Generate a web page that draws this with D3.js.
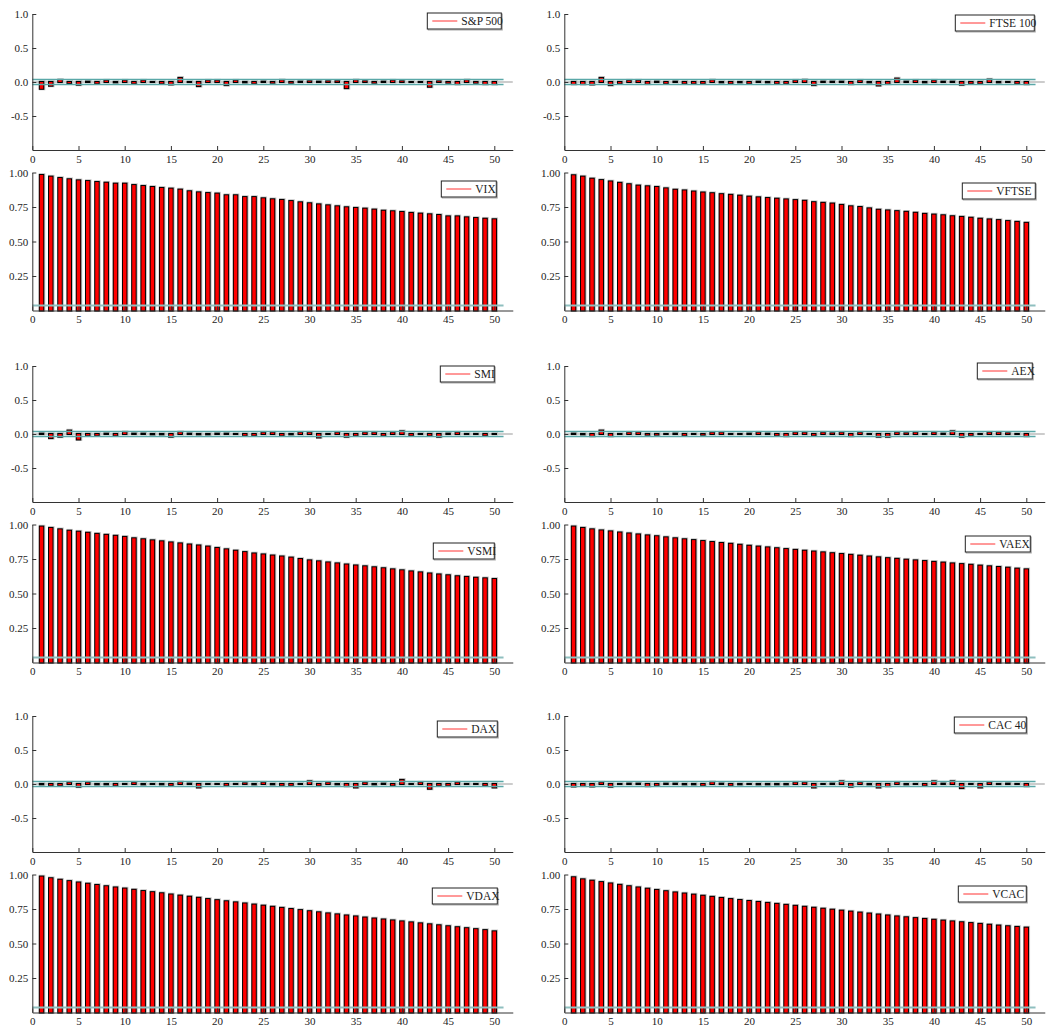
<!DOCTYPE html>
<html>
<head>
<meta charset="utf-8">
<script src="https://cdn.jsdelivr.net/npm/d3@7"></script>
<style>
  body { margin: 0; background: #fff; }
  svg { display: block; font-family: "Liberation Serif", "DejaVu Serif", serif; }
</style>
</head>
<body>
<div id="chart"></div>
<script>
// lags 1..50
var lags = d3.range(1, 51)
var band = 0.037

// autocorrelation of returns
var spx = [-0.10,-0.055,0.03,-0.015,-0.04,0.005,-0.02,0.02,-0.005,0.02,-0.02,0.02,0.0,-0.02,-0.035,0.06,0.0,-0.06,0.02,0.02,-0.045,0.02,-0.005,-0.02,
  0.005,-0.01,0.025,-0.01,0.005,0.01,0.005,0.01,0.01,-0.09,0.025,0.01,-0.01,0.005,0.02,0.01,0.0,0.0,-0.07,0.01,-0.01,-0.03,0.025,-0.01,-0.03,-0.03]
var ftse = [-0.03,-0.03,-0.035,0.06,-0.045,-0.02,0.02,0.02,-0.025,0.005,-0.02,0.005,-0.02,-0.02,-0.02,0.025,-0.005,-0.02,-0.005,-0.02,0.005,-0.005,-0.02,
  -0.02,0.02,0.03,-0.045,0.005,0.005,0.005,-0.03,0.02,-0.005,-0.05,-0.025,0.05,0.005,0.02,-0.005,0.02,0.005,0.005,-0.04,-0.02,-0.02,0.035,-0.005,0.0,-0.02,-0.03]
var smi = [0.005,-0.06,-0.04,0.05,-0.08,-0.02,-0.02,0.005,-0.02,0.025,0.005,0.005,-0.005,-0.005,-0.04,0.025,0.005,-0.005,-0.005,0.005,0.005,0.0,-0.02,-0.02,
  0.02,0.02,-0.02,-0.005,0.02,0.02,-0.05,0.0,0.02,-0.04,-0.02,0.02,0.02,-0.02,0.02,0.04,-0.02,0.0,-0.02,-0.04,0.005,0.02,0.0,0.0,-0.02,0.0]
var aex = [0.005,-0.005,-0.03,0.05,-0.03,0.0,0.02,0.02,-0.01,-0.01,0.0,0.005,-0.02,0.0,-0.01,0.02,0.02,0.0,0.0,0.005,0.02,0.005,-0.02,-0.03,
  0.02,0.02,-0.02,0.02,0.01,0.02,-0.03,0.02,0.0,-0.04,-0.04,0.02,0.01,0.02,0.0,0.02,0.005,0.04,-0.04,-0.02,0.0,0.02,0.02,0.01,0.0,-0.03]
var dax = [-0.005,-0.02,-0.02,0.02,-0.04,0.02,-0.005,-0.005,-0.02,0.0,0.02,-0.005,0.0,-0.005,-0.02,0.025,0.005,-0.05,0.0,0.0,-0.02,0.0,0.01,-0.005,
  0.02,-0.005,-0.02,-0.02,0.0,0.04,-0.02,0.02,-0.005,-0.03,-0.05,0.02,-0.005,0.005,-0.02,0.06,0.0,0.02,-0.07,-0.02,-0.02,0.02,0.0,0.0,-0.02,-0.05]
var cac = [-0.035,-0.025,-0.035,0.02,-0.04,0.0,0.005,0.005,-0.03,-0.02,0.005,0.005,-0.005,-0.005,-0.02,0.025,0.005,-0.02,-0.005,0.0,-0.005,-0.005,-0.005,
  -0.005,0.02,0.02,-0.05,0.0,0.005,0.04,-0.04,0.02,-0.005,-0.05,-0.03,0.02,-0.005,0.0,-0.02,0.04,0.005,0.04,-0.06,0.0,-0.05,0.02,0.0,0.005,0.0,-0.03]

// autocorrelation of volatility indices
var vix = [0.982,0.970,0.960,0.951,0.943,0.938,0.931,0.926,0.919,0.919,0.909,0.902,0.895,0.888,0.883,0.876,0.864,0.856,0.851,0.847,0.835,0.835,0.822,0.822,
  0.813,0.806,0.801,0.793,0.784,0.777,0.769,0.762,0.755,0.748,0.743,0.738,0.731,0.723,0.719,0.714,0.707,0.702,0.697,0.692,0.682,0.682,0.675,0.670,0.665,0.661]
var vftse = [0.980,0.970,0.955,0.945,0.935,0.925,0.915,0.905,0.900,0.895,0.885,0.875,0.870,0.862,0.855,0.850,0.843,0.838,0.832,0.825,0.820,0.815,0.810,0.805,
  0.800,0.795,0.785,0.780,0.775,0.765,0.755,0.750,0.740,0.730,0.725,0.720,0.715,0.708,0.700,0.695,0.690,0.683,0.678,0.672,0.665,0.660,0.655,0.648,0.642,0.635]
var vsmi = [0.985,0.975,0.965,0.955,0.948,0.940,0.932,0.925,0.918,0.910,0.900,0.893,0.885,0.878,0.870,0.863,0.855,0.848,0.840,0.830,0.820,0.810,0.800,0.790,
  0.783,0.775,0.768,0.760,0.750,0.740,0.733,0.725,0.718,0.710,0.703,0.697,0.690,0.683,0.675,0.668,0.660,0.653,0.645,0.638,0.632,0.625,0.620,0.614,0.610,0.605]
var vaex = [0.985,0.975,0.965,0.957,0.950,0.942,0.935,0.928,0.921,0.915,0.907,0.900,0.893,0.887,0.880,0.873,0.866,0.860,0.853,0.846,0.840,0.834,0.828,0.822,
  0.816,0.810,0.804,0.798,0.792,0.786,0.780,0.774,0.768,0.762,0.756,0.751,0.745,0.740,0.735,0.729,0.724,0.718,0.713,0.708,0.702,0.697,0.692,0.687,0.680,0.675]
var vdax = [0.985,0.973,0.962,0.952,0.942,0.933,0.924,0.915,0.906,0.898,0.889,0.880,0.872,0.864,0.855,0.847,0.839,0.831,0.822,0.814,0.806,0.798,0.790,0.782,
  0.774,0.766,0.758,0.750,0.742,0.734,0.726,0.718,0.711,0.703,0.696,0.688,0.681,0.674,0.667,0.660,0.653,0.646,0.639,0.632,0.625,0.618,0.611,0.604,0.597,0.588]
var vcac = [0.980,0.965,0.955,0.945,0.935,0.925,0.915,0.906,0.897,0.888,0.879,0.870,0.862,0.854,0.846,0.838,0.830,0.822,0.815,0.808,0.801,0.794,0.787,0.780,
  0.773,0.766,0.759,0.752,0.745,0.738,0.731,0.724,0.717,0.710,0.703,0.696,0.690,0.684,0.678,0.672,0.666,0.660,0.654,0.648,0.642,0.636,0.630,0.625,0.620,0.615]

var names = ['S&P 500','FTSE 100','VIX','VFTSE','SMI','AEX','VSMI','VAEX','DAX','CAC 40','VDAX','VCAC']
var series = [spx, ftse, vix, vftse, smi, aex, vsmi, vaex, dax, cac, vdax, vcac]

var width = 1046, height = 1032
var svg = d3.select('#chart').append('svg')
  .attr('width', width)
  .attr('height', height)

var lag_px = 9.24
var col_x = [32.3, 564.3]
var group_y = [0, 352, 702]
// legend box (left, top, right) relative to panel origin, per panel
var legend_pos = [[395,-1,469],[391,1,470],[409,8.5,464],[398,10.5,471],
  [408,0,462],[413,-3,468],[401,18.5,462],[401,11.5,466],
  [405,5,465],[390,1,462],[400,13.5,465],[394,11.5,462]]

names.forEach(function(name, i){
  var col = i % 2
  var row = Math.floor(i / 2)
  var is_vol = row % 2 === 1
  var g_idx = Math.floor(row / 2)
  var x0 = col_x[col]
  var top = (is_vol ? 172.5 : 14) + group_y[g_idx]
  draw_panel(name, series[i], x0, top, is_vol, legend_pos[i])
})

function draw_panel(name, values, x0, top, is_vol, lp){
  var g = svg.append('g')
  var x = d3.scaleLinear().domain([0, 52]).range([x0, x0 + 52 * lag_px])
  var y = is_vol
    ? d3.scaleLinear().domain([0, 1]).range([top + 138, top])
    : d3.scaleLinear().domain([-1, 1]).range([top + 136, top])
  var y_base = is_vol ? 0 : -1

  // zero line
  if(!is_vol){
    g.append('line')
      .attr('x1', x(0)).attr('x2', x(52))
      .attr('y1', y(0)).attr('y2', y(0))
      .attr('stroke', '#999').attr('stroke-width', 1)
  }

  // bars: gray halo, black edge outside, red body
  var bw = 0.38 * lag_px
  var bars = g.append('g')
  values.forEach(function(v, k){
    var lag = lags[k]
    var y1 = Math.min(y(v), y(0)), y2 = Math.max(y(v), y(0))
    var h = y2 - y1
    var bx = x(lag) - bw / 2
    bars.append('rect')
      .attr('x', bx - 1).attr('y', y1 - 1.8)
      .attr('width', bw + 3).attr('height', h + 3.3)
      .attr('fill', '#c4c4c4')
    bars.append('rect')
      .attr('x', bx - 1).attr('y', y1 - 1)
      .attr('width', bw + 2).attr('height', h + 2)
      .attr('fill', '#000')
    if(h > 0.6){
      bars.append('rect')
        .attr('x', bx).attr('y', y1)
        .attr('width', bw).attr('height', h)
        .attr('fill', '#ff0000')
    }
  })

  // confidence band
  var band_vals = is_vol ? [band] : [band, -band]
  band_vals.forEach(function(b){
    g.append('line')
      .attr('x1', x(0)).attr('x2', x(51))
      .attr('y1', y(b)).attr('y2', y(b))
      .attr('stroke', is_vol ? '#8fbfbf' : '#5aa8a8')
      .attr('stroke-width', is_vol ? 2 : 1.5)
  })

  // x axis
  var xa = g.append('g').attr('transform', 'translate(0,' + y(y_base) + ')')
  xa.call(d3.axisBottom(x).tickValues(d3.range(0, 53)).tickSize(-2).tickFormat(''))
  xa.call(d3.axisBottom(x).tickValues(d3.range(0, 51, 5)).tickSizeInner(-4).tickSizeOuter(0).tickPadding(5))
  style_axis(xa)

  // y axis
  var minor = is_vol ? d3.range(1, 21).map(function(d){ return d * 0.05 }) : d3.range(-10, 11).map(function(d){ return d / 10 })
  var major = is_vol ? [0.25, 0.5, 0.75, 1.0] : [-0.5, 0, 0.5, 1.0]
  var ya = g.append('g').attr('transform', 'translate(' + x(0) + ',0)')
  ya.call(d3.axisLeft(y).tickValues(minor).tickSize(-2).tickFormat(''))
  ya.call(d3.axisLeft(y).tickValues(major).tickSizeInner(-4).tickSizeOuter(0).tickPadding(4)
    .tickFormat(function(d){ return d.toFixed(is_vol ? 2 : 1) }))
  style_axis(ya)

  // legend
  var lx = x0 + lp[0], ly = top + lp[1], lw = lp[2] - lp[0], lh = 16
  var lg = g.append('g')
  lg.append('rect')
    .attr('x', lx + 1).attr('y', ly + 1).attr('width', lw).attr('height', lh)
    .attr('fill', 'none').attr('stroke', '#aaa').attr('stroke-width', 1)
  lg.append('rect')
    .attr('x', lx).attr('y', ly).attr('width', lw).attr('height', lh)
    .attr('fill', '#fff').attr('stroke', '#222').attr('stroke-width', 1)
  lg.append('line')
    .attr('x1', lx + 5).attr('x2', lx + 30)
    .attr('y1', ly + lh / 2).attr('y2', ly + lh / 2)
    .attr('stroke', '#f33').attr('stroke-width', 1)
  lg.append('text')
    .attr('x', lx + 34).attr('y', ly + lh / 2 + 4)
    .attr('font-size', 11.5).attr('fill', '#222')
    .text(name)
}

function style_axis(a){
  a.select('.domain').attr('stroke', '#333')
  a.selectAll('.tick line').attr('stroke', '#333')
  a.selectAll('.tick text').attr('fill', '#222')
    .attr('font-family', '"Liberation Serif", serif').attr('font-size', 11)
}
</script>
</body>
</html>
